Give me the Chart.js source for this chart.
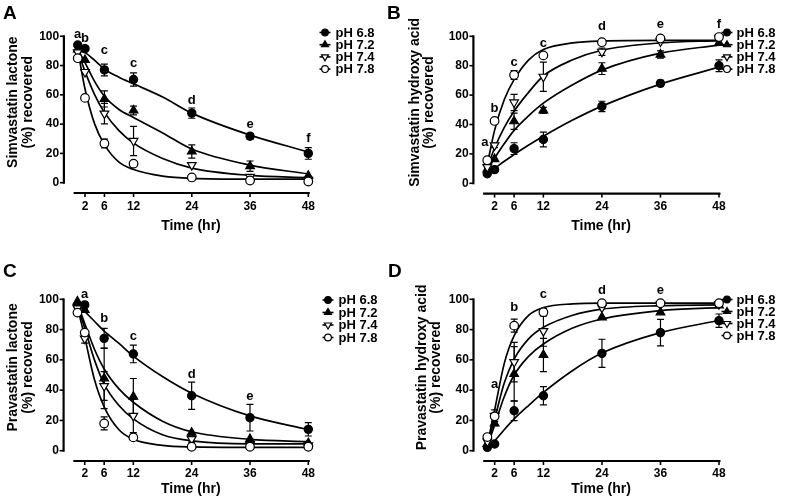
<!DOCTYPE html>
<html><head><meta charset="utf-8">
<script src="https://cdn.jsdelivr.net/npm/chart.js@4.4.1/dist/chart.umd.min.js"></script>
<style>
html,body{margin:0;padding:0;background:#fff;}
#wrap{position:relative;width:788px;height:501px;overflow:hidden;background:#fff;}
.panel{position:absolute;}
.plabel{position:absolute;font:bold 19px "Liberation Sans",Arial,Helvetica,sans-serif;color:#000;line-height:19px;}
</style></head><body>
<div id="wrap">
  <div class="panel" style="left:0;top:0;width:394px;height:250px"><canvas id="cA" width="394" height="250"></canvas></div>
  <div class="panel" style="left:394px;top:0;width:394px;height:250px"><canvas id="cB" width="394" height="250"></canvas></div>
  <div class="panel" style="left:0;top:250px;width:394px;height:251px"><canvas id="cC" width="394" height="251"></canvas></div>
  <div class="panel" style="left:394px;top:250px;width:394px;height:251px"><canvas id="cD" width="394" height="251"></canvas></div>
  <div class="plabel" style="left:3px;top:2.5px">A</div>
  <div class="plabel" style="left:387px;top:2.5px">B</div>
  <div class="plabel" style="left:3px;top:260.5px">C</div>
  <div class="plabel" style="left:388px;top:260.5px">D</div>
</div>
<script>
const FONT = '"Liberation Sans", Arial, Helvetica, sans-serif';
Chart.defaults.font.family = FONT;
Chart.defaults.color = '#000';

// ---------- shared data ----------
const times = [0.5, 2, 6, 12, 24, 36, 48];
const fitTimes = [0.5, 2, 4, 6, 9, 12, 18, 24, 36, 48];
const xTickVals = [2, 6, 12, 24, 36, 48];
const yTickVals = [0, 20, 40, 60, 80, 100];
const seriesLabels = ['pH 6.8', 'pH 7.2', 'pH 7.4', 'pH 7.8'];
const xTitle = 'Time (hr)';

// ---------- Panel A: Simvastatin lactone ----------
const titleA = ['Simvastatin lactone', '(%) recovered'];
const valA68 = [94, 91.5, 77, 70.5, 47.5, 31.7, 20];
const errA68 = [0.5, 0.5, 4, 4.5, 3.5, 2, 4];
const valA72 = [91, 83.8, 57.2, 49.3, 21.3, 11.3, 4.7];
const errA72 = [1, 1, 5.5, 3, 4.5, 3.5, 0.5];
const valA74 = [89, 75.6, 47.2, 28.5, 12, 4, 2];
const errA74 = [1, 1, 7, 10, 1, 1, 0.5];
const valA78 = [85, 57.9, 26.8, 13, 3.6, 1.5, 0.8];
const errA78 = [0.5, 1, 3, 1, 0.5, 0.3, 0.3];
const fitA68 = [92, 89, 83.5, 77.5, 72, 67.5, 58.5, 47.5, 32.5, 21];
const fitA72 = [91, 82, 69, 59, 50, 44.5, 34, 23, 12, 6];
const fitA74 = [90, 76, 60, 48, 35.5, 27, 16.5, 10, 5, 3.5];
const fitA78 = [91, 64, 40, 26, 14, 9, 4.5, 3, 2.5, 2.5];
const letA = ['a', 'b', 'c', 'c', 'd', 'e', 'f'];
const letAx = [0.5, 2, 6, 12, 24, 36, 48];
const letAy = [101.3, 98.2, 90, 81.5, 56, 39.5, 30];

// ---------- Panel B: Simvastatin hydroxy acid ----------
const titleB = ['Simvastatin hydroxy acid', '(%) recovered'];
const valB68 = [6.5, 9.3, 23.6, 29.8, 52.3, 68, 80];
const errB68 = [0.8, 0.8, 4, 5, 3.5, 2, 4];
const valB72 = [9.5, 16.5, 42.2, 49.6, 78, 87.6, 95.5];
const errB72 = [1, 1, 5.5, 2, 4, 2.5, 0.8];
const valB74 = [11, 25.8, 55, 72.5, 89.5, 96.5, 99];
const errB74 = [1, 1.5, 5.5, 10, 2.5, 1, 0.5];
const valB78 = [15.7, 42.4, 73.7, 87, 96, 98.5, 99.5];
const errB78 = [1, 1, 3, 1, 0.5, 0.5, 0.5];
const fitB68 = [6.5, 10, 15, 19.5, 26, 32, 43, 52.5, 67.5, 79];
const fitB72 = [9, 17, 27, 36, 46, 54.5, 67, 77, 88.5, 94];
const fitB74 = [10.5, 24, 38, 49, 62, 73, 84, 90.5, 95.5, 97];
const fitB78 = [12.5, 36, 57, 70.5, 84, 91, 95.5, 96.8, 97.2, 97.2];
const letB = ['a', 'b', 'c', 'c', 'd', 'e', 'f'];
const letBx = [0, 2, 6, 12, 24, 36, 48];
const letBy = [28, 51, 82.5, 95, 106.5, 108, 108];

// ---------- Panel C: Pravastatin lactone ----------
const titleC = ['Pravastatin lactone', '(%) recovered'];
const valC68 = [96, 96.3, 74.2, 63.9, 36.3, 21.8, 14.1];
const errC68 = [0.5, 1, 6.6, 5.8, 9, 8.8, 4.4];
const valC72 = [98.5, 93, 47.8, 35.7, 11.9, 7.7, 5];
const errC72 = [0.5, 1, 20, 12, 1, 1, 0.5];
const valC74 = [94, 74, 42.7, 23, 7.7, 4, 3.5];
const errC74 = [1, 3, 9.5, 11, 2, 1, 0.5];
const valC78 = [91.2, 78, 18, 8.8, 2.6, 2.6, 2.6];
const errC78 = [0.5, 1, 4.3, 2, 0.5, 0.5, 0.5];
const fitC68 = [97, 92, 85.5, 79, 71, 62.5, 49, 38, 23, 14];
const fitC72 = [97, 84, 67, 54, 41, 32, 19.5, 12.5, 7.5, 6];
const fitC74 = [96, 81, 60, 44, 30, 21, 10.5, 6.5, 4.5, 4.5];
const fitC78 = [95, 75, 47, 29, 14, 7.5, 3.5, 2.5, 2.2, 2.2];
const letC = ['a', 'b', 'c', 'd', 'e'];
const letCx = [2, 6, 12, 24, 36];
const letCy = [103.5, 87.4, 75.8, 50.4, 36.1];

// ---------- Panel D: Pravastatin hydroxy acid ----------
const titleD = ['Pravastatin hydroxy acid', '(%) recovered'];
const valD68 = [2.2, 4.4, 26.4, 36.3, 64.3, 78, 85.9];
const errD68 = [0.5, 0.8, 6.5, 6, 9.3, 8.8, 4.4];
const valD72 = [4.5, 18, 50.7, 63.2, 88.1, 91.4, 96];
const errD72 = [0.5, 1.5, 18, 11, 1, 1, 0.5];
const valD74 = [6, 23, 58.5, 79, 94.5, 96.5, 96.8];
const errD74 = [0.5, 4, 13, 10, 1, 0.5, 0.5];
const valD78 = [9, 22.7, 82.6, 91.5, 97.4, 97.4, 97.4];
const errD78 = [0.5, 1.5, 4.3, 2.3, 0.5, 0.5, 0.5];
const fitD68 = [2, 6.5, 14, 21, 30, 38.5, 53, 64.5, 78, 86];
const fitD72 = [3, 17, 36, 50, 62.5, 70.5, 81, 87, 92.5, 94.5];
const fitD74 = [3.5, 21, 45, 60.5, 74, 81.5, 89.5, 93.5, 95.8, 96.3];
const fitD78 = [4, 27, 58, 76, 89.5, 94.5, 97, 97.5, 97.5, 97.5];
const letD = ['a', 'b', 'c', 'd', 'e'];
const letDx = [2, 6, 12, 24, 36];
const letDy = [43.8, 94.7, 103.3, 105.7, 105.7];

// ---------- styles & geometry ----------
const STYLES = [
  {shape: 'circle', rotation: 0, fill: '#000', r: 4.1, lr: 3.3},
  {shape: 'triangle', rotation: 0, fill: '#000', r: 5, lr: 4},
  {shape: 'triangle', rotation: 180, fill: '#fff', r: 5, lr: 4},
  {shape: 'circle', rotation: 0, fill: '#fff', r: 4.3, lr: 3.4}
];
const X_MIN = -0.35, X_MAX = 48, Y_MAX = 110;

function drawMarker(ctx, st, x, y, r) {
  ctx.beginPath();
  if (st.shape === 'circle') {
    ctx.arc(x, y, r, 0, Math.PI * 2);
  } else {
    let rad = st.rotation * Math.PI / 180;
    for (let k = 0; k < 3; k++) {
      const px = x + Math.sin(rad) * r, py = y - Math.cos(rad) * r;
      if (k === 0) ctx.moveTo(px, py); else ctx.lineTo(px, py);
      rad += 2 * Math.PI / 3;
    }
  }
  ctx.closePath();
  ctx.fillStyle = st.fill; ctx.fill();
  ctx.lineWidth = 1.2; ctx.strokeStyle = '#000'; ctx.stroke();
}

function buildPanel(id, g, yTitle, series, letters) {
  const ppuY = (g.y0 - g.y100) / 100;
  const top = g.y0 - ppuY * Y_MAX;
  const datasets = [];
  series.forEach((s, i) => {
    datasets.push({
      label: seriesLabels[i] + ' fit',
      data: fitTimes.map((t, k) => ({x: t, y: s.fit[k]})),
      showLine: true, pointRadius: 0, borderColor: '#000', borderWidth: 1.7,
      cubicInterpolationMode: 'monotone', fill: false, order: 10, isFit: true
    });
  });
  series.forEach((s, i) => {
    const st = STYLES[i];
    datasets.push({
      label: seriesLabels[i],
      data: times.map((t, k) => ({x: t, y: s.val[k]})),
      err: s.err,
      showLine: false, pointStyle: st.shape, pointRotation: st.rotation,
      pointRadius: st.r, pointBackgroundColor: st.fill, pointBorderColor: '#000',
      pointBorderWidth: 1.2, borderColor: '#000', clip: false, order: 4 - i, styleIdx: i
    });
  });

  const deco = {
    id: 'deco' + id,
    beforeDatasetsDraw(chart) {
      const ctx = chart.ctx, xs = chart.scales.x, ys = chart.scales.y;
      const ax = chart.chartArea.left - 9.7;
      const ay = ys.getPixelForValue(0) + 10.3;
      ctx.save();
      ctx.strokeStyle = '#000'; ctx.lineCap = 'butt';
      ctx.lineWidth = 2.2;
      ctx.beginPath(); ctx.moveTo(ax, ys.getPixelForValue(0) + 1); ctx.lineTo(ax, ys.getPixelForValue(100) - 1); ctx.stroke();
      ctx.lineWidth = 1.6;
      yTickVals.forEach(v => { const p = ys.getPixelForValue(v); ctx.beginPath(); ctx.moveTo(ax, p); ctx.lineTo(ax - 4, p); ctx.stroke(); });
      ctx.lineWidth = 2.2;
      ctx.beginPath(); ctx.moveTo(xs.getPixelForValue(X_MIN), ay); ctx.lineTo(xs.getPixelForValue(X_MAX) + 1.5, ay); ctx.stroke();
      ctx.lineWidth = 1.6;
      xTickVals.forEach(v => { const p = xs.getPixelForValue(v); ctx.beginPath(); ctx.moveTo(p, ay); ctx.lineTo(p, ay + 4); ctx.stroke(); });
      ctx.restore();
    },
    beforeDatasetDraw(chart, args) {
      const ds = chart.data.datasets[args.index];
      if (!ds.err) return;
      const ctx = chart.ctx, xs = chart.scales.x, ys = chart.scales.y;
      ctx.save(); ctx.strokeStyle = '#000'; ctx.lineWidth = 1.2;
      ds.data.forEach((p, k) => {
        const e = ds.err[k]; if (!e || e < 1.5) return;
        const x = xs.getPixelForValue(p.x);
        const y1 = ys.getPixelForValue(p.y + e), y2 = ys.getPixelForValue(p.y - e);
        ctx.beginPath();
        ctx.moveTo(x, y1); ctx.lineTo(x, y2);
        ctx.moveTo(x - 3.5, y1); ctx.lineTo(x + 3.5, y1);
        ctx.moveTo(x - 3.5, y2); ctx.lineTo(x + 3.5, y2);
        ctx.stroke();
      });
      ctx.restore();
    },
    afterDatasetsDraw(chart) {
      const ctx = chart.ctx, xs = chart.scales.x, ys = chart.scales.y;
      ctx.save();
      ctx.font = 'bold 13px ' + FONT; ctx.fillStyle = '#000';
      ctx.textAlign = 'center'; ctx.textBaseline = 'middle';
      letters.text.forEach((t, k) => ctx.fillText(t, xs.getPixelForValue(letters.x[k]), ys.getPixelForValue(letters.y[k])));
      const L = g.legend;
      chart.data.datasets.filter(d => !d.isFit).forEach((d, i) => {
        const st = STYLES[d.styleIdx];
        const y = L.y0 + i * L.dy;
        ctx.strokeStyle = '#000'; ctx.lineWidth = 1.6;
        ctx.beginPath(); ctx.moveTo(L.mx - 5.5, y); ctx.lineTo(L.mx + 5.5, y); ctx.stroke();
        drawMarker(ctx, st, L.mx, y, st.lr);
        ctx.fillStyle = '#000'; ctx.textAlign = 'left'; ctx.font = 'bold 13px ' + FONT;
        ctx.fillText(d.label, L.tx, y + 0.5);
      });
      ctx.restore();
    }
  };

  return new Chart(document.getElementById(id), {
    type: 'line',
    data: {datasets},
    options: {
      responsive: false, maintainAspectRatio: false, animation: false, devicePixelRatio: 1, events: [],
      layout: {padding: {top: top, left: 0, right: g.w - g.right, bottom: 0}},
      plugins: {legend: {display: false}, tooltip: {enabled: false}, title: {display: false}},
      scales: {
        x: {
          type: 'linear', min: X_MIN, max: X_MAX,
          afterBuildTicks: s => { s.ticks = xTickVals.map(v => ({value: v})); },
          afterFit: s => { s.height = g.h - g.y0; },
          grid: {display: false, drawTicks: false}, border: {display: false},
          ticks: {autoSkip: false, maxRotation: 0, padding: g.xTickC - 7.2, color: '#000',
                  font: {size: 12, weight: 'bold', lineHeight: 1.2}},
          title: {display: true, text: xTitle, color: '#000',
                  font: {size: 14, weight: 'bold', lineHeight: 1.2},
                  padding: {top: 0, bottom: (g.h - g.xTitleC) - 8.4}}
        },
        y: {
          type: 'linear', min: 0, max: Y_MAX,
          afterBuildTicks: s => { s.ticks = yTickVals.map(v => ({value: v})); },
          afterFit: s => { s.width = g.left; },
          grid: {display: false, drawTicks: false}, border: {display: false},
          ticks: {padding: 14.4, color: '#000', font: {size: 12, weight: 'bold', lineHeight: 1.2}},
          title: {display: true, text: yTitle, color: '#000',
                  font: {size: 14, weight: 'bold', lineHeight: 1.04},
                  padding: {top: g.yTitle1 - 7.3, bottom: 0}}
        }
      }
    },
    plugins: [deco]
  });
}

buildPanel('cA',
  {w: 394, h: 250, left: 73.6, right: 308.3, y0: 182.7, y100: 32.3, yTitle1: 13.3, xTickC: 23.5, xTitleC: 226,
   legend: {mx: 325, tx: 335.5, y0: 32.5, dy: 12.2}},
  titleA,
  [{val: valA68, err: errA68, fit: fitA68}, {val: valA72, err: errA72, fit: fitA72},
   {val: valA74, err: errA74, fit: fitA74}, {val: valA78, err: errA78, fit: fitA78}],
  {text: letA, x: letAx, y: letAy});

buildPanel('cB',
  {w: 394, h: 250, left: 89.1, right: 325, y0: 183.3, y100: 32.3, yTitle1: 21, xTickC: 23.4, xTitleC: 226,
   legend: {mx: 333, tx: 342.5, y0: 32.5, dy: 12.2}},
  titleB,
  [{val: valB68, err: errB68, fit: fitB68}, {val: valB72, err: errB72, fit: fitB72},
   {val: valB74, err: errB74, fit: fitB74}, {val: valB78, err: errB78, fit: fitB78}],
  {text: letB, x: letBx, y: letBy});

buildPanel('cC',
  {w: 394, h: 251, left: 73.3, right: 308.3, y0: 200.7, y100: 49.3, yTitle1: 13.3, xTickC: 22.5, xTitleC: 239.3,
   legend: {mx: 328, tx: 338.5, y0: 50, dy: 12.5}},
  titleC,
  [{val: valC68, err: errC68, fit: fitC68}, {val: valC72, err: errC72, fit: fitC72},
   {val: valC74, err: errC74, fit: fitC74}, {val: valC78, err: errC78, fit: fitC78}],
  {text: letC, x: letCx, y: letCy});

buildPanel('cD',
  {w: 394, h: 251, left: 89.2, right: 325, y0: 200.7, y100: 49.3, yTitle1: 28, xTickC: 22.6, xTitleC: 239.3,
   legend: {mx: 333, tx: 342.5, y0: 49.5, dy: 12}},
  titleD,
  [{val: valD68, err: errD68, fit: fitD68}, {val: valD72, err: errD72, fit: fitD72},
   {val: valD74, err: errD74, fit: fitD74}, {val: valD78, err: errD78, fit: fitD78}],
  {text: letD, x: letDx, y: letDy});
</script>
</body></html>
